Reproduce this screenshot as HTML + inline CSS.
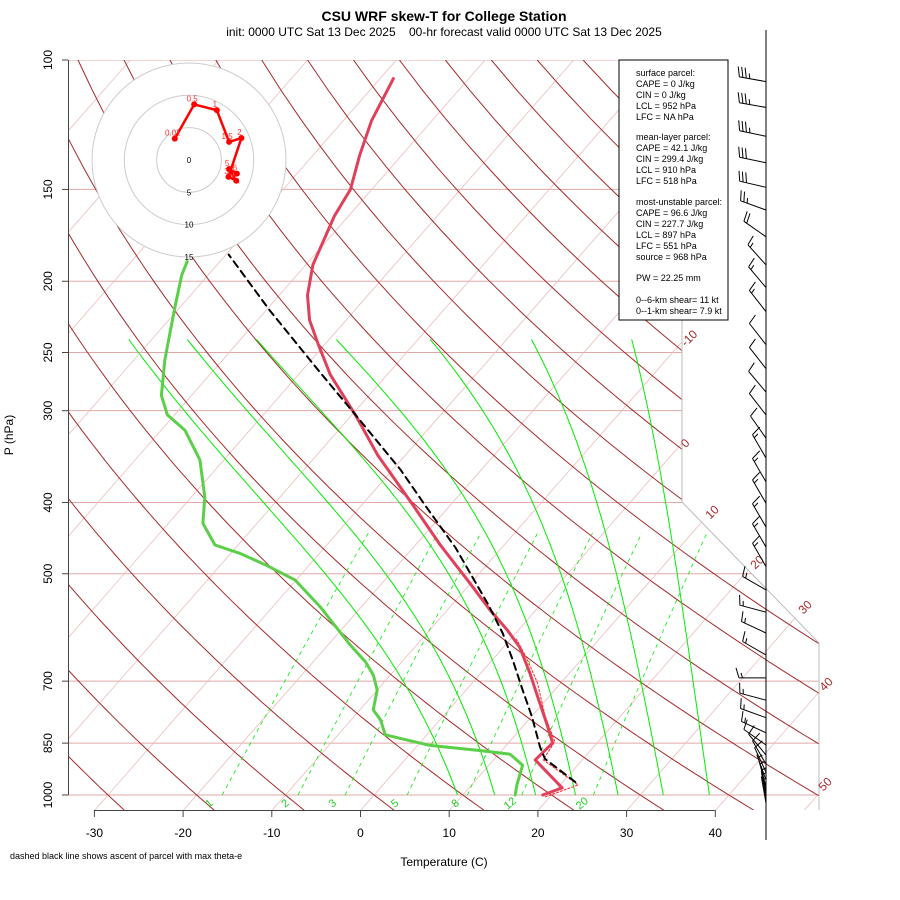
<!DOCTYPE html>
<html><head><meta charset="utf-8"><title>CSU WRF skew-T</title>
<style>
html,body{margin:0;padding:0;background:#fff;}
svg{display:block;font-family:"Liberation Sans",sans-serif;}
</style></head>
<body>
<svg id="chart" width="900" height="900" viewBox="0 0 900 900" xmlns="http://www.w3.org/2000/svg">
<defs><clipPath id="frameClip"><polygon points="68,60 682,60 682,502 819,643 819,810 68,810"/></clipPath></defs>
<rect x="0" y="0" width="900" height="900" fill="#fff"/>
<text x="444" y="21" font-size="14" font-weight="bold" text-anchor="middle">CSU WRF skew-T for College Station</text>
<text x="444" y="36" font-size="12" text-anchor="middle">init: 0000 UTC Sat 13 Dec 2025&#160;&#160;&#160;&#160;00-hr forecast valid 0000 UTC Sat 13 Dec 2025</text>
<g id="bg" clip-path="url(#frameClip)"></g>
<polyline points="682,60 682,502 819,643 819,810" fill="none" stroke="#bbb" stroke-width="1"/>
<g id="traces" clip-path="url(#frameClip)"></g>
<g id="axes"></g>
<g id="hodo"></g>
<g id="barbs"></g>
<g font-size="9" fill="#000">
<rect x="619" y="60" width="109" height="260" fill="#fff" stroke="#000" stroke-width="1"/>
<text x="636" y="76">surface parcel:</text>
<text x="636" y="87">CAPE = 0 J/kg</text>
<text x="636" y="98">CIN = 0 J/kg</text>
<text x="636" y="109">LCL = 952 hPa</text>
<text x="636" y="120">LFC = NA hPa</text>
<text x="636" y="140">mean-layer parcel:</text>
<text x="636" y="151">CAPE = 42.1 J/kg</text>
<text x="636" y="162">CIN = 299.4 J/kg</text>
<text x="636" y="173">LCL = 910 hPa</text>
<text x="636" y="184">LFC = 518 hPa</text>
<text x="636" y="205">most-unstable parcel:</text>
<text x="636" y="216">CAPE = 96.6 J/kg</text>
<text x="636" y="227">CIN = 227.7 J/kg</text>
<text x="636" y="238">LCL = 897 hPa</text>
<text x="636" y="249">LFC = 551 hPa</text>
<text x="636" y="260">source = 968 hPa</text>
<text x="636" y="281">PW =  22.25 mm</text>
<text x="636" y="303">0--6-km shear= 11 kt</text>
<text x="636" y="314">0--1-km shear= 7.9 kt</text>
</g>
<text x="444" y="866" font-size="12" text-anchor="middle">Temperature (C)</text>
<text transform="translate(13,435) rotate(-90)" font-size="12" text-anchor="middle">P (hPa)</text>
<text x="10" y="859" font-size="9">dashed black line shows ascent of parcel with max theta-e</text>
</svg>
<script>
// ---- data ----
const tempP = [1000,978,896,850,803,736,682,629,596,560,515,457,397,345,304,268,244,226,209,190,163,150,135,121,106];
const tempT = [19.0,20.5,14.7,15.0,12.6,8.8,5.5,1.8,-1.3,-5.2,-10.1,-17.2,-25.1,-33.1,-39.6,-46.4,-50.7,-54.1,-56.8,-59.2,-61.6,-62.4,-64.7,-66.8,-68.5];
const dewP = [1000,969,911,880,870,856,828,790,766,720,687,659,625,555,510,486,469,457,427,393,350,319,304,286,256,237,215,196,188];
const dewT = [15.9,15.1,13.8,11.3,7.5,1.4,-4.7,-6.7,-8.5,-10.0,-11.9,-14.1,-17.5,-24.6,-30.1,-35.0,-39.0,-42.6,-46.1,-48.5,-52.7,-57.3,-60.8,-63.4,-66.5,-68.4,-70.8,-73.0,-73.7];
const parcelP = [960,893,861,783,715,655,602,551,461,403,361,309,266,219,184];
const parcelT = [21.4,15.7,14.0,10.1,6.1,2.3,-1.5,-5.9,-15.2,-22.9,-29.1,-38.6,-47.8,-59.6,-69.7];
const virtP = [1006,969,896,846,781,703,650,614];
const virtT = [19.5,22.0,15.6,15.1,11.5,7.3,3.6,0.7];
const hodoU = [-2.2,0.8,4.3,6.2,8.1,6.1,7.3,6.2,7.4];
const hodoV = [3.3,8.6,7.7,2.8,3.4,-2.6,-3.2,-1.4,-2.1];
const hodoLabels = ["0.01","0.5","1","1.5","2","3","4","5","6"];
const windP = [107,116,127,138,149,160,174,190,204,220,244,263,283,304,327,348,375,401,432,460,489,526,564,602,645,693,743,785,823,855,882,908,931,954,975,994,1009,1026];
const windDir = [280,280,282,282,283,290,305,318,320,322,322,322,320,322,325,330,330,330,330,330,330,300,285,295,300,270,285,290,295,305,320,330,335,340,345,350,350,350];
const windSpd = [35,35,35,30,30,25,20,15,15,15,10,10,10,10,10,15,15,15,15,15,15,15,15,15,15,15,15,15,15,10,10,10,10,5,5,5,5,5];
const pTicks = [100,150,200,250,300,400,500,700,850,1000];
const tTicks = [-30,-20,-10,0,10,20,30,40];
const isoLabelT = [-10,0,10,20,30,40,50];
const mixW = [1,2,3,5,8,12,20];
const moistT0 = [9.4,13.6,18.2,22.7,27.5,32.6,37.8];
const moistTopT = [-72.6,-66.0,-58.2,-49.2,-38.6,-27.2,-15.9];

// ---- scales ----
const X0=361, SX=8.87, K=0.875, YB=810;
function yP(p){return 60+735*Math.log10(p/100);}
function xT(T,p){return X0+SX*T+K*(YB-yP(p));}
const NS="http://www.w3.org/2000/svg";
function mk(parent,tag,attrs){const e=document.createElementNS(NS,tag);for(const k in attrs)e.setAttribute(k,attrs[k]);parent.appendChild(e);return e;}
function pathFrom(pts){return pts.map((q,i)=>(i?'L':'M')+q[0].toFixed(1)+','+q[1].toFixed(1)).join('');}

const bg=document.getElementById('bg');
pTicks.forEach(p=>{
  const l=mk(bg,'line',{x1:68,x2:830,y1:yP(p),y2:yP(p),stroke:'#e2a8a8','stroke-width':1});
  
  
});
for(let T=-120;T<=60;T+=10){
  const l=mk(bg,'line',{x1:xT(T,1050),y1:yP(1050),x2:xT(T,100),y2:yP(100),stroke:'#eebcbc','stroke-width':0.8});
  
  
}
for(let th=-40;th<=200;th+=10){
  const pts=[];
  for(let p=1050;p>=100;p-=10){const T=(th+273.15)*Math.pow(p/1000,0.286)-273.15;pts.push([xT(T,p),yP(p)]);}
  const e=mk(bg,'path',{d:pathFrom(pts),fill:'none',stroke:'#a52a2a','stroke-width':1});
  
  
}
moistT0.forEach((t0,k)=>{
  let T=t0+273.15;const raw=[];
  for(let p=1000;p>=240;p-=5){
    raw.push([p,T-273.15]);
    const es=6.112*Math.exp(17.67*(T-273.15)/(T-29.65));
    const rs=0.622*es/(p-es);
    const d=(287*T+2.5e6*rs)/(p*(1004+2.5e6*2.5e6*rs*0.622/(287*T*T)));
    T-=d*5;
  }
  const topRaw=raw[raw.length-1][1], corr=moistTopT[k]-topRaw, lp=Math.log(1000/240);
  const pts=raw.map(r=>{const f=Math.log(1000/r[0])/lp;return [xT(r[1]+corr*f,r[0]),yP(r[0])];});
  const e=mk(bg,'path',{d:pathFrom(pts),fill:'none',stroke:'#00ee00','stroke-width':1});
  
  
});
function tdw(w,p){const e=w*p/(622+w);const L=Math.log(e/6.112);return 243.5*L/(17.67-L);}
mixW.forEach(w=>{
  const pts=[];
  for(let p=1000;p>=440;p-=10)pts.push([xT(tdw(w,p),p),yP(p)]);
  const e=mk(bg,'path',{d:pathFrom(pts),fill:'none',stroke:'#00ee00','stroke-width':0.8,'stroke-dasharray':'4,4'});
  
  
  const x=xT(tdw(w,1040),1040)-4, y=806;
  const t=mk(bg,'text',{x:x,y:y,'font-size':11,fill:'#22cc22','text-anchor':'middle',transform:'rotate(-40 '+x+' '+y+')'});
  t.textContent=String(w);
  
  
});
const disk=mk(bg,'circle',{cx:189,cy:160,r:97,fill:'#fff'});



const isoLabPos=[[692,341],[688,446],[715,515],[760,565],[808,610],[829,687],[828,787]];
const ax=document.getElementById('axes');
isoLabelT.forEach((T,i)=>{
  const [x,y]=isoLabPos[i];
  const t=mk(ax,'text',{x:x,y:y,'font-size':12,fill:'#a52a2a','text-anchor':'middle',transform:'rotate(-45 '+x+' '+y+')'});
  t.textContent=String(T);
  
  
});

const tr=document.getElementById('traces');
function trace(P,T,attrs,name){
  const pts=P.map((p,i)=>[xT(T[i],p),yP(p)]);
  attrs.d=pathFrom(pts);attrs.fill='none';attrs['stroke-linejoin']='round';attrs['stroke-linecap']='round';
  const e=mk(tr,'path',attrs);
  
  
}
trace(dewP,dewT,{stroke:'#5ccf4a','stroke-width':3},'dewpoint-line');
trace(virtP,virtT,{stroke:'#ff2020','stroke-width':1,'stroke-dasharray':'2,2'},'virtual-temperature-line');
trace(tempP,tempT,{stroke:'#e0405a','stroke-width':3},'temperature-line');
trace(parcelP,parcelT,{stroke:'#000','stroke-width':2,'stroke-dasharray':'7,5'},'parcel-line');

const ya=mk(ax,'line',{x1:68.5,x2:68.5,y1:yP(100),y2:yP(1000),stroke:'#444','stroke-width':1});


pTicks.forEach(p=>{
  const y=yP(p);
  const tk=mk(ax,'line',{x1:62,x2:68,y1:y,y2:y,stroke:'#444'});
  
  
  const t=mk(ax,'text',{x:52,y:y,'font-size':12,'text-anchor':'middle',transform:'rotate(-90 52 '+y+')'});
  t.textContent=String(p);
  
  
});
const xa=mk(ax,'line',{x1:xT(-30,1050),x2:xT(40,1050),y1:810.5,y2:810.5,stroke:'#444'});


tTicks.forEach(T=>{
  const x=xT(T,1050);
  const tk=mk(ax,'line',{x1:x,x2:x,y1:810,y2:817,stroke:'#444'});
  
  
  const t=mk(ax,'text',{x:x,y:837,'font-size':12,'text-anchor':'middle'});
  t.textContent=String(T);
  
  
});

const hg=document.getElementById('hodo');
const HC=[189,160], HS=6.47;
[5,10,15].forEach(r=>{
  const c=mk(hg,'circle',{cx:HC[0],cy:HC[1],r:r*HS,fill:'none',stroke:'#ccc','stroke-width':1});
  
  
});
[0,5,10,15].forEach(r=>{
  const t=mk(hg,'text',{x:HC[0],y:HC[1]+r*HS+3,'font-size':8,'text-anchor':'middle',fill:'#000'});
  t.textContent=String(r);
  
  
});
const hpts=hodoU.map((u,i)=>[HC[0]+u*HS,HC[1]-hodoV[i]*HS]);
const hl=mk(hg,'path',{d:pathFrom(hpts),fill:'none',stroke:'#ff0000','stroke-width':2.5});


hpts.forEach((q,i)=>{
  const c=mk(hg,'circle',{cx:q[0],cy:q[1],r:3,fill:'#ff0000'});
  
  
  const t=mk(hg,'text',{x:q[0]-2,y:q[1]-3,'font-size':8,fill:'#ff3030','text-anchor':'middle'});
  t.textContent=hodoLabels[i];
  
  
});

const bb=document.getElementById('barbs');
const st=mk(bb,'line',{x1:766,x2:766,y1:30,y2:840,stroke:'#000','stroke-width':1});


windP.forEach((p,i)=>{
  const y=yP(p), d=windDir[i]*Math.PI/180, L=27;
  const ux=Math.sin(d), uy=-Math.cos(d);
  const tx=766+ux*L, ty=y+uy*L;
  let s='M766,'+y.toFixed(1)+'L'+tx.toFixed(1)+','+ty.toFixed(1);
  const bx=-uy, by=ux;
  let spd=windSpd[i], pos=0;
  while(spd>=10){
    const sx=tx-ux*pos, sy=ty-uy*pos;
    s+='M'+sx.toFixed(1)+','+sy.toFixed(1)+'l'+(bx*10+ux*3).toFixed(1)+','+(by*10+uy*3).toFixed(1);
    spd-=10;pos+=3.5;
  }
  if(spd>=5){
    if(pos===0)pos=3.5;
    const sx=tx-ux*pos, sy=ty-uy*pos;
    s+='M'+sx.toFixed(1)+','+sy.toFixed(1)+'l'+(bx*5+ux*1.5).toFixed(1)+','+(by*5+uy*1.5).toFixed(1);
  }
  const e=mk(bb,'path',{d:s,fill:'none',stroke:'#000','stroke-width':1});
  
  
});
</script>
</body></html>
